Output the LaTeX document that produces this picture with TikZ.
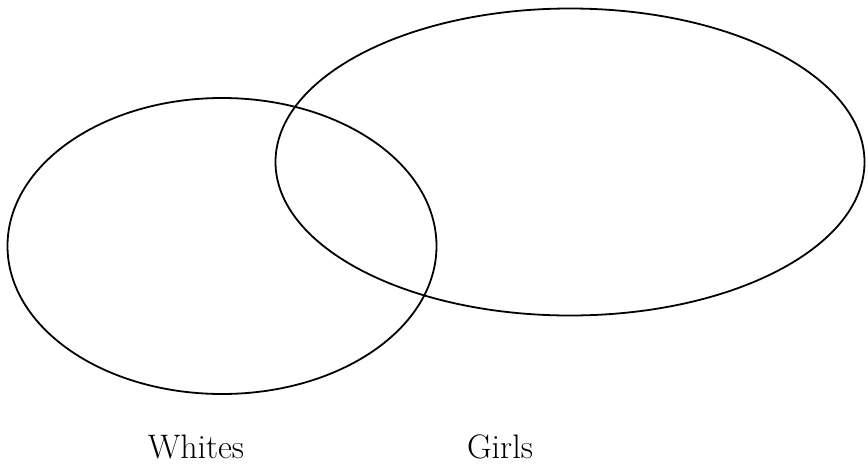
\documentclass[tikz,border=0pt]{standalone}
\usepackage{tikz}
\usetikzlibrary{shapes.geometric}

\begin{document}
\begin{tikzpicture}[
  x=1pt, y=-1pt,
  set/.style={draw, ellipse, line width=1.8pt, inner sep=0pt},
  lbl/.style={anchor=base, inner sep=0pt, font=\fontsize{34}{40}\selectfont},
]
  \useasboundingbox (0,0) rectangle (868,466);

  \node[set, minimum width=429pt, minimum height=296pt] (whites) at (222,246) {};
  \node[set, minimum width=589pt, minimum height=307pt] (girls) at (570,162) {};

  % set names
  \node[lbl] (whitesname) at (196,458) {Whites};
  \node[lbl] (girlsname) at (500,458) {Girls};
\end{tikzpicture}
\end{document}
